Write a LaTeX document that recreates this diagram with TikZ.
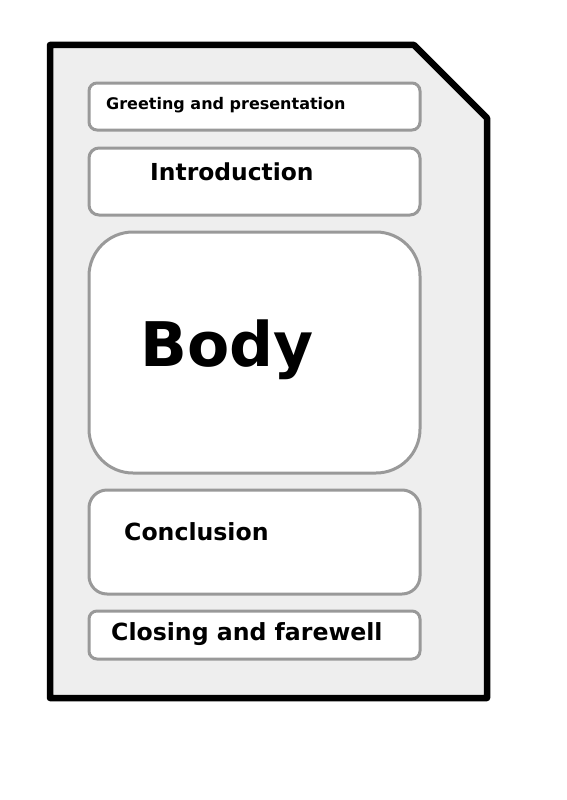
\documentclass[tikz,border=0pt]{standalone}
\usepackage{fontspec}
\setmainfont{DejaVu Sans}
\definecolor{docfill}{HTML}{EEEEEE}
\definecolor{boxline}{HTML}{999999}
\tikzset{
  secbox/.style={draw=boxline, line width=3pt, fill=white},
  sectext/.style={anchor=base west, inner sep=0pt, font=\bfseries}
}
\begin{document}
\begin{tikzpicture}[x=1pt,y=-1pt]
\useasboundingbox (0,0) rectangle (566,800);
\draw[line width=6.5pt, fill=docfill, line join=round] (50,45) -- (414,45) -- (487,118) -- (487,698) -- (50,698) -- cycle;
\draw[secbox, rounded corners=8pt] (89,83) rectangle (420,130);
\draw[secbox, rounded corners=10pt] (89,148) rectangle (420,215);
\draw[secbox, rounded corners=44pt] (89,232) rectangle (420,473);
\draw[secbox, rounded corners=18pt] (89,490) rectangle (420,594);
\draw[secbox, rounded corners=8pt] (89,611) rectangle (420,659);
\node[sectext, font=\bfseries\fontsize{16}{19}\selectfont] (greet) at (106,109) {Greeting and presentation};
\node[sectext, font=\bfseries\fontsize{23.4}{27}\selectfont] (intro) at (150,180) {Introduction};
\node[sectext, font=\bfseries\fontsize{61.5}{70}\selectfont] (body) at (140,366) {Body};
\node[sectext, font=\bfseries\fontsize{23.6}{27}\selectfont] (concl) at (124,540) {Conclusion};
\node[sectext, font=\bfseries\fontsize{23.6}{27}\selectfont] (close) at (111,640) {Closing and farewell};
\end{tikzpicture}
\end{document}
